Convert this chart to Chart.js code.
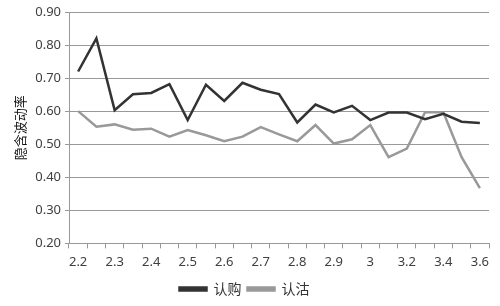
<!DOCTYPE html>
<html>
<head>
<meta charset="utf-8">
<script src="https://cdn.jsdelivr.net/npm/chart.js@4"></script>
<style>
  body { margin: 0; background: #fff; }
  #wrap { width: 500px; height: 306px; }
</style>
</head>
<body>
<div id="wrap"><canvas id="chart"></canvas></div>
<script>
const strikes = ["2.2", "2.25", "2.3", "2.35", "2.4", "2.45", "2.5", "2.55", "2.6", "2.65", "2.7", "2.75",
  "2.8", "2.85", "2.9", "2.95", "3", "3.1", "3.2", "3.3", "3.4", "3.5", "3.6"];
const callIV = [0.72, 0.82, 0.603, 0.651, 0.655, 0.682, 0.573, 0.68, 0.631, 0.686, 0.665, 0.652,
  0.566, 0.62, 0.596, 0.616, 0.573, 0.596, 0.596, 0.576, 0.592, 0.568, 0.564];
const putIV = [0.60, 0.553, 0.56, 0.544, 0.547, 0.523, 0.543, 0.527, 0.509, 0.523, 0.552, 0.53,
  0.509, 0.558, 0.502, 0.515, 0.558, 0.461, 0.487, 0.597, 0.597, 0.461, 0.367];
const yTicks = [0.2, 0.3, 0.4, 0.5, 0.6, 0.7, 0.8, 0.9];

const FONT = "'Noto Sans', 'Noto Sans CJK SC', sans-serif";
const CJK = "'Noto Sans CJK SC', sans-serif";

window.onload = () => {
  const ctx = document.getElementById("chart").getContext("2d");
  new Chart(ctx, {
    type: "line",
    data: {
      labels: strikes,
      datasets: [
        {
          label: "认购",
          data: callIV,
          borderColor: "#333333",
          backgroundColor: "#333333",
          borderWidth: 2.5,
          pointRadius: 0,
          tension: 0,
        },
        {
          label: "认沽",
          data: putIV,
          borderColor: "#999999",
          backgroundColor: "#999999",
          borderWidth: 2.5,
          pointRadius: 0,
          tension: 0,
        },
      ],
    },
    options: {
      responsive: true,
      maintainAspectRatio: false,
      animation: false,
      layout: { padding: { top: 12, right: 11, bottom: 0, left: 0 } },
      plugins: {
        legend: {
          position: "bottom",
          labels: {
            boxWidth: 27,
            boxHeight: 3,
            color: "#333",
            font: { family: CJK, size: 14 },
            padding: 6,
          },
        },
        tooltip: { enabled: false },
      },
      scales: {
        x: {
          offset: true,
          grid: {
            offset: true,
            drawOnChartArea: false,
            drawTicks: true,
            tickLength: 5,
            color: "#999",
          },
          border: { color: "#999" },
          ticks: {
            autoSkip: false,
            maxRotation: 0,
            color: "#404040",
            font: { family: FONT, size: 13 },
            padding: 6,
            callback: (v, i) => (i % 2 === 0 ? strikes[i] : ""),
          },
        },
        y: {
          min: 0.2,
          max: 0.9,
          afterBuildTicks: (scale) => {
            scale.ticks = yTicks.map((v) => ({ value: v }));
          },
          afterFit: (scale) => {
            scale.width = 69;
          },
          grid: { color: "#999", drawTicks: true, tickLength: 4 },
          border: { color: "#999" },
          ticks: {
            color: "#404040",
            font: { family: FONT, size: 13 },
            padding: 4,
            callback: (v) => v.toFixed(2),
          },
          title: {
            display: true,
            text: "隐含波动率",
            color: "#111",
            font: { family: CJK, size: 13 },
            padding: { top: 12, bottom: 0 },
          },
        },
      },
    },
  });
};
</script>
</body>
</html>
